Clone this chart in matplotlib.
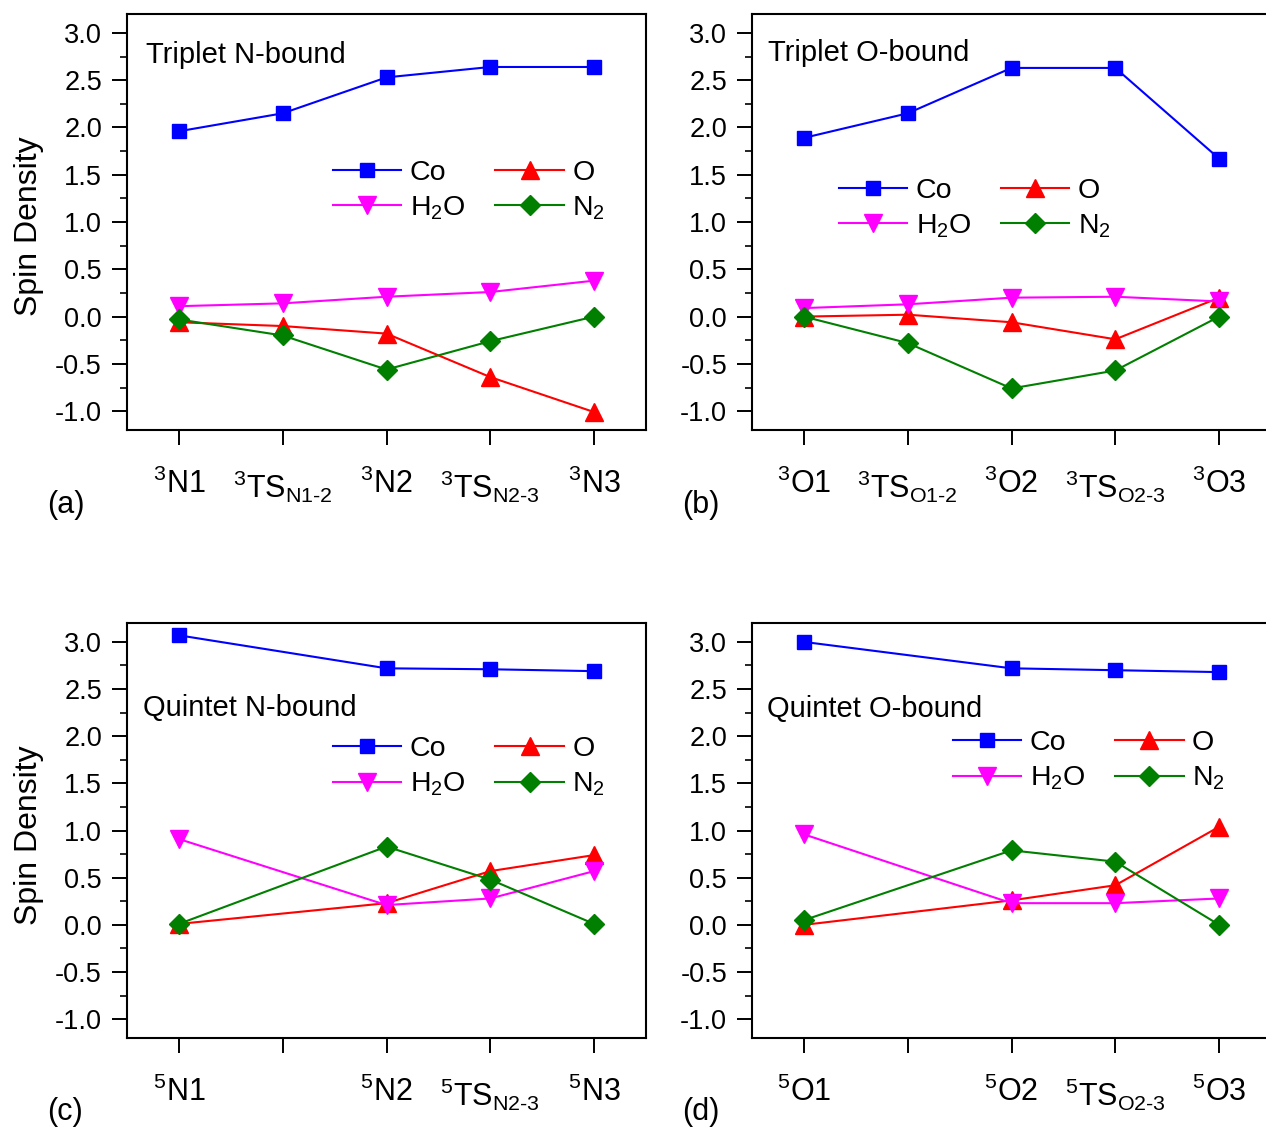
import numpy as np
import matplotlib
matplotlib.use("Agg")
import matplotlib.pyplot as plt
from matplotlib.ticker import MultipleLocator

plt.rcParams['font.family'] = ['Liberation Sans', 'DejaVu Sans']
plt.rcParams['mathtext.fontset'] = 'custom'
plt.rcParams['mathtext.rm'] = 'Liberation Sans'
plt.rcParams['mathtext.it'] = 'Liberation Sans:italic'
plt.rcParams['mathtext.bf'] = 'Liberation Sans:bold'
plt.rcParams['axes.unicode_minus'] = False

# Spin densities per fragment along each pathway
a_labels = [r'$^{3}$N1', r'$^{3}$TS$_{\mathrm{N1}\text{-}\mathrm{2}}$', r'$^{3}$N2',
            r'$^{3}$TS$_{\mathrm{N2}\text{-}\mathrm{3}}$', r'$^{3}$N3']
a_x = [1, 2, 3, 4, 5]
a_co = [1.96, 2.15, 2.53, 2.64, 2.64]
a_o = [-0.06, -0.10, -0.18, -0.64, -1.01]
a_h2o = [0.11, 0.14, 0.21, 0.26, 0.38]
a_n2 = [-0.03, -0.20, -0.56, -0.26, 0.00]

b_labels = [r'$^{3}$O1', r'$^{3}$TS$_{\mathrm{O1}\text{-}\mathrm{2}}$', r'$^{3}$O2',
            r'$^{3}$TS$_{\mathrm{O2}\text{-}\mathrm{3}}$', r'$^{3}$O3']
b_x = [1, 2, 3, 4, 5]
b_co = [1.89, 2.15, 2.63, 2.63, 1.67]
b_o = [0.00, 0.02, -0.06, -0.24, 0.20]
b_h2o = [0.09, 0.13, 0.20, 0.21, 0.16]
b_n2 = [0.00, -0.28, -0.76, -0.57, 0.00]

c_labels = [r'$^{5}$N1', '', r'$^{5}$N2', r'$^{5}$TS$_{\mathrm{N2}\text{-}\mathrm{3}}$', r'$^{5}$N3']
c_x = [1, 3, 4, 5]
c_co = [3.07, 2.72, 2.71, 2.69]
c_o = [0.01, 0.23, 0.57, 0.74]
c_h2o = [0.91, 0.21, 0.28, 0.57]
c_n2 = [0.01, 0.83, 0.48, 0.01]

d_labels = [r'$^{5}$O1', '', r'$^{5}$O2', r'$^{5}$TS$_{\mathrm{O2}\text{-}\mathrm{3}}$', r'$^{5}$O3']
d_x = [1, 3, 4, 5]
d_co = [3.00, 2.72, 2.70, 2.68]
d_o = [0.00, 0.26, 0.42, 1.04]
d_h2o = [0.96, 0.23, 0.23, 0.28]
d_n2 = [0.05, 0.79, 0.67, 0.00]

fig = plt.figure(figsize=(12.66, 11.32), dpi=100)

panels = [
    # (axes rect, x, labels, series, title, title pos, legend anchor, tag, tag pos, ylabel)
    ([0.1003, 0.6201, 0.41, 0.3675], a_x, a_labels, (a_co, a_o, a_h2o, a_n2),
     'Triplet N-bound', (0.036, 0.902), (0.397, 0.650), '(a)', (0.037, 0.554), True),
    ([0.594, 0.6201, 0.41, 0.3675], b_x, b_labels, (b_co, b_o, b_h2o, b_n2),
     'Triplet O-bound', (0.030, 0.907), (0.167, 0.607), '(b)', (0.539, 0.554), False),
    ([0.1003, 0.0830, 0.41, 0.3666], c_x, c_labels, (c_co, c_o, c_h2o, c_n2),
     'Quintet N-bound', (0.030, 0.795), (0.397, 0.728), '(c)', (0.037, 0.0177), True),
    ([0.594, 0.0830, 0.41, 0.3666], d_x, d_labels, (d_co, d_o, d_h2o, d_n2),
     'Quintet O-bound', (0.028, 0.792), (0.387, 0.742), '(d)', (0.539, 0.0177), False),
]

for rect, xs, labels, (co, o, h2o, n2), title, tpos, lpos, tag, tagpos, ylab in panels:
    ax = fig.add_axes(rect)
    l_co, = ax.plot(xs, co, '-s', color='#0000FF', mfc='#0000FF', mec='#0000FF',
                    ms=10, lw=1.5, label='Co')
    l_o, = ax.plot(xs, o, '-^', color='#FF0000', mfc='#FF0000', mec='#FF0000',
                   ms=13, lw=1.5, label='O')
    l_h2o, = ax.plot(xs, h2o, '-v', color='#FF00FF', mfc='#FF00FF', mec='#FF00FF',
                     ms=13, lw=1.5, label=r'H$_2$O')
    l_n2, = ax.plot(xs, n2, '-D', color='#007F00', mfc='#007F00', mec='#007F00',
                    ms=10, lw=1.5, label=r'N$_2$')

    ax.set_xlim(0.5, 5.5)
    ax.set_ylim(-1.2, 3.2)
    ax.set_xticks([1, 2, 3, 4, 5])
    ax.set_xticklabels(labels, fontsize=22)
    ax.yaxis.set_major_locator(MultipleLocator(0.5))
    ax.yaxis.set_minor_locator(MultipleLocator(0.25))
    ax.yaxis.set_major_formatter(matplotlib.ticker.FormatStrFormatter('%.1f'))
    ax.tick_params(axis='y', which='major', direction='out', length=11, width=1.4,
                   labelsize=19.5, pad=7)
    ax.tick_params(axis='y', which='minor', direction='out', length=5, width=1.2)
    ax.tick_params(axis='x', which='major', direction='out', length=11, width=1.4, pad=17)
    for sp in ax.spines.values():
        sp.set_linewidth(1.5)

    if ylab:
        ax.set_ylabel('Spin Density', fontsize=23)
        ax.yaxis.set_label_coords(-0.16, 0.49)

    ax.text(tpos[0], tpos[1], title, transform=ax.transAxes, fontsize=21,
            ha='left', va='center')

    ax.legend(handles=[l_co, l_h2o, l_o, l_n2], ncol=2, loc='upper left',
              bbox_to_anchor=lpos, frameon=False, fontsize=20.5, borderpad=0,
              handlelength=2.4, handletextpad=0.3, columnspacing=1.05,
              labelspacing=0.3, borderaxespad=0)

    fig.text(tagpos[0], tagpos[1], tag, fontsize=22, ha='left', va='center')

fig.savefig('out.png', dpi=100)
